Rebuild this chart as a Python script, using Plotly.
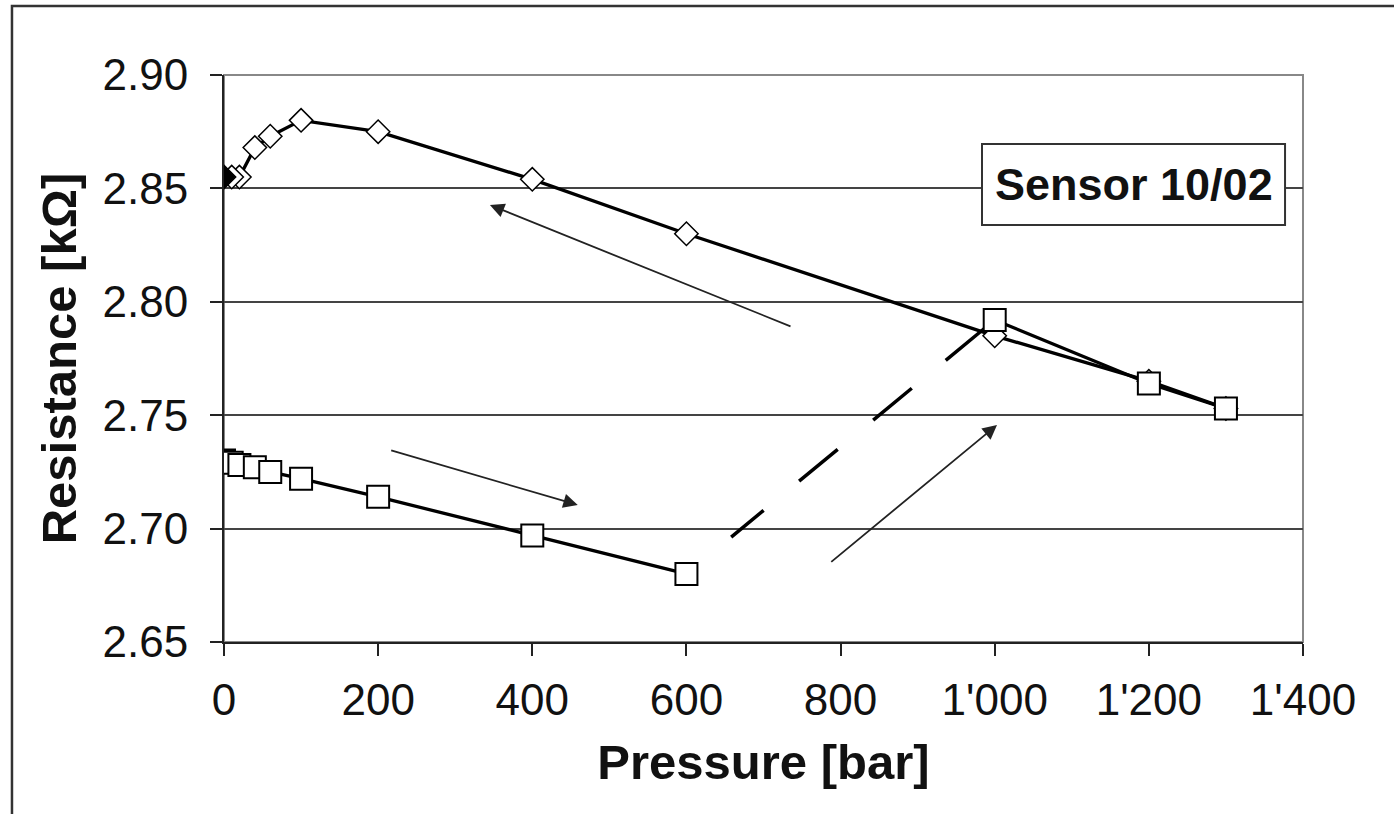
import plotly.graph_objects as go

# Pressure decreasing (diamonds)
p_down = [1300, 1200, 1000, 600, 400, 200, 100, 60, 40, 20, 10, 0]
r_down = [2.753, 2.765, 2.785, 2.830, 2.854, 2.875, 2.880, 2.873, 2.868, 2.855, 2.855, 2.855]

# Pressure increasing (squares)
p_up_a = [0, 10, 20, 40, 60, 100, 200, 400, 600]
r_up_a = [2.730, 2.729, 2.728, 2.727, 2.725, 2.722, 2.714, 2.697, 2.680]
p_up_gap = [600, 1000]
r_up_gap = [2.680, 2.792]
p_up_b = [1000, 1200, 1300]
r_up_b = [2.792, 2.764, 2.753]

x_ticks = [0, 200, 400, 600, 800, 1000, 1200, 1400]
x_ticktext = ["0", "200", "400", "600", "800", "1'000", "1'200", "1'400"]
y_ticks = [2.65, 2.70, 2.75, 2.80, 2.85, 2.90]

label = "Sensor 10/02"

FONT = "Liberation Sans, Arial, sans-serif"

fig = go.Figure()

fig.add_trace(go.Scatter(
    x=p_up_gap, y=r_up_gap, mode="lines",
    line=dict(color="black", width=3.5,
              dash="0px,58px,42px,46px,50px,46px,50px,44px,50px,200px"),
    showlegend=False, hoverinfo="skip"))

fig.add_trace(go.Scatter(
    x=p_down, y=r_down, mode="lines+markers",
    line=dict(color="black", width=3.3),
    marker=dict(symbol="diamond", size=18,
                color=["white"] * (len(p_down) - 1) + ["black"],
                line=dict(color="black", width=1.5)),
    showlegend=False))

fig.add_trace(go.Scatter(
    x=p_up_a, y=r_up_a, mode="lines+markers",
    line=dict(color="black", width=3.3),
    marker=dict(symbol="square", size=22,
                color=["black"] + ["white"] * (len(p_up_a) - 1),
                line=dict(color="black", width=2)),
    showlegend=False))

fig.add_trace(go.Scatter(
    x=p_up_b, y=r_up_b, mode="lines+markers",
    line=dict(color="black", width=3.3),
    marker=dict(symbol="square", size=22, color="white",
                line=dict(color="black", width=2)),
    showlegend=False))

arrows = [
    (737, 2.7889, 345, 2.8427),
    (215, 2.7347, 459, 2.7104),
    (786, 2.6848, 1003, 2.7457),
]
for ax_, ay_, x_, y_ in arrows:
    fig.add_annotation(x=x_, y=y_, ax=ax_, ay=ay_, xref="x", yref="y",
                       axref="x", ayref="y", text="", showarrow=True,
                       arrowhead=2, arrowsize=1.6, arrowwidth=1.8,
                       arrowcolor="#222")

# label box
fig.add_shape(type="rect", xref="x", yref="y", x0=983.5, x1=1376.7,
              y0=2.8339, y1=2.8696, line=dict(color="#333", width=2),
              fillcolor="white", layer="above")
fig.add_annotation(x=(983.5 + 1376.7) / 2, y=(2.8339 + 2.8696) / 2,
                   xref="x", yref="y", text=f"<b>{label}</b>",
                   showarrow=False, font=dict(family=FONT, size=45, color="#111"))

# plot area frame (gray)
fig.add_shape(type="rect", xref="paper", yref="paper", x0=0, x1=1, y0=0, y1=1,
              line=dict(color="#888", width=2), layer="below")
# outer chart frame
fig.add_shape(type="rect", xref="paper", yref="paper", x0=-0.1965, x1=1.2,
              y0=-0.5, y1=1.1217, line=dict(color="#333", width=2.5),
              layer="below")

fig.update_layout(
    width=1394, height=814,
    margin=dict(l=224, r=91, t=75, b=172),
    paper_bgcolor="white", plot_bgcolor="white",
    font=dict(family=FONT, color="#111"),
    showlegend=False,
    xaxis=dict(
        range=[0, 1400], tickvals=x_ticks, ticktext=x_ticktext,
        showgrid=False, zeroline=False, showline=True,
        linecolor="#222", linewidth=2, ticks="outside", ticklen=12,
        tickwidth=2, tickcolor="#222", ticklabelstandoff=6,
        tickfont=dict(family=FONT, size=44, color="#111"),
        title=dict(text="<b>Pressure [bar]</b>",
                   font=dict(family=FONT, size=49, color="#111"), standoff=22),
    ),
    yaxis=dict(
        range=[2.65, 2.90], tickvals=y_ticks, tickformat=".2f",
        showgrid=True, gridcolor="#444", gridwidth=2,
        zeroline=False, showline=True,
        linecolor="#222", linewidth=2, ticks="outside", ticklen=12,
        tickwidth=2, tickcolor="#222", ticklabelstandoff=13,
        tickfont=dict(family=FONT, size=44, color="#111"),
        title=dict(text="<b>Resistance [kΩ]</b>",
                   font=dict(family=FONT, size=49, color="#111"), standoff=10),
    ),
)

fig.write_html("out.html")
